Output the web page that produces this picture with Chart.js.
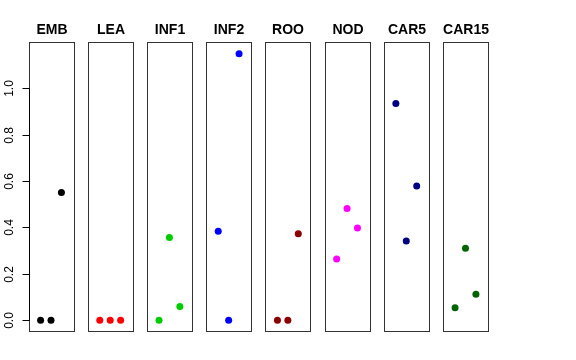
<!DOCTYPE html>
<html>
<head>
<meta charset="utf-8">
<script src="https://cdn.jsdelivr.net/npm/chart.js@4"></script>
<style>
  html, body { margin: 0; padding: 0; background: #fff; }
  #wrap { width: 576px; height: 360px; }
</style>
</head>
<body>
<div id="wrap"><canvas id="chart"></canvas></div>
<script>
// panel names and colours, left to right
const panels = ['EMB', 'LEA', 'INF1', 'INF2', 'ROO', 'NOD', 'CAR5', 'CAR15'];
const colors = ['#000000', '#ff0000', '#00cd00', '#0000ff', '#8b0000', '#ff00ff', '#000080', '#006400'];

// x position of the three points inside each panel
const positions = [1, 2, 3];

// values
const emb   = [0, 0, 0.55];
const lea   = [0, 0, 0];
const inf1  = [0, 0.357, 0.059];
const inf2  = [0.384, 0, 1.148];
const roo   = [0, 0, 0.373];
const nod   = [0.264, 0.481, 0.397];
const car5  = [0.933, 0.341, 0.578];
const car15 = [0.054, 0.310, 0.112];

const yTicks = [0, 0.2, 0.4, 0.6, 0.8, 1.0];

const series = [emb, lea, inf1, inf2, roo, nod, car5, car15];

// each panel spans 0..4 (plus 4%), panels placed side by side on one x scale
const panelMin = -0.16;
const panelMax = 4.16;
const panelStep = 5.683;

const datasets = series.map((vals, i) => ({
    label: panels[i],
    data: vals.map((v, j) => ({ x: i * panelStep + positions[j], y: v })),
    backgroundColor: colors[i],
    borderColor: colors[i],
    pointRadius: 3.5,
    pointBorderWidth: 0
}));

// boxes, titles and the y axis of the first panel
const panelPlugin = {
    id: 'panels',
    beforeDatasetsDraw(chart) {
        const { ctx, chartArea, scales } = chart;
        const xs = scales.x, ys = scales.y;
        ctx.save();
        ctx.strokeStyle = '#333';
        ctx.lineWidth = 1;
        let firstLeft = 0;
        panels.forEach((name, i) => {
            const l = Math.round(xs.getPixelForValue(i * panelStep + panelMin)) + 0.5;
            const r = Math.round(xs.getPixelForValue(i * panelStep + panelMax)) + 0.5;
            const t = Math.round(chartArea.top) - 0.5;
            const b = Math.round(chartArea.bottom) + 0.5;
            if (i === 0) firstLeft = l;
            ctx.strokeRect(l, t, r - l, b - t);

            ctx.fillStyle = '#000';
            ctx.font = 'bold 14px "Liberation Sans", Arial, sans-serif';
            ctx.textAlign = 'center';
            ctx.textBaseline = 'middle';
            ctx.fillText(name, (l + r) / 2, 30);
        });

        // tick marks and rotated labels
        ctx.strokeStyle = '#000';
        ctx.font = '12px "Liberation Sans", Arial, sans-serif';
        ctx.fillStyle = '#000';
        ctx.beginPath();
        ctx.moveTo(firstLeft, Math.round(ys.getPixelForValue(yTicks[0])) + 0.5);
        ctx.lineTo(firstLeft, Math.round(ys.getPixelForValue(yTicks[yTicks.length - 1])) + 0.5);
        ctx.stroke();
        yTicks.forEach(v => {
            const y = Math.round(ys.getPixelForValue(v)) + 0.5;
            ctx.beginPath();
            ctx.moveTo(firstLeft - 7, y);
            ctx.lineTo(firstLeft, y);
            ctx.stroke();
            ctx.save();
            ctx.translate(10, y);
            ctx.rotate(-Math.PI / 2);
            ctx.textAlign = 'center';
            ctx.textBaseline = 'middle';
            ctx.fillText(v.toFixed(1), 0, 0);
            ctx.restore();
        });
        ctx.restore();
    }
};

new Chart('chart', {
    type: 'scatter',
    data: { datasets: datasets },
    options: {
        responsive: true,
        maintainAspectRatio: false,
        animation: false,
        layout: { padding: { top: 43, right: 88, bottom: 29, left: 0 } },
        plugins: {
            legend: { display: false },
            tooltip: { enabled: false }
        },
        scales: {
            x: {
                type: 'linear',
                display: false,
                min: panelMin,
                max: 7 * panelStep + panelMax
            },
            y: {
                type: 'linear',
                min: -0.046,
                max: 1.194,
                afterFit: s => { s.width = 28.5; },
                ticks: { display: false },
                border: { display: false },
                grid: { display: false }
            }
        }
    },
    plugins: [panelPlugin]
});
</script>
</body>
</html>
